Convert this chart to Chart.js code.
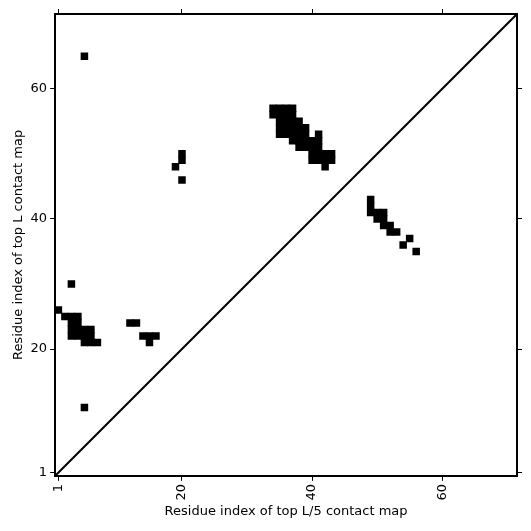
<!DOCTYPE html>
<html>
<head>
<meta charset="utf-8">
<script src="https://cdn.jsdelivr.net/npm/chart.js@4"></script>
<style>
  body { margin: 0; background: white; }
  #box { width: 531px; height: 531px; }
</style>
</head>
<body>
<div id="box"><canvas id="myChart"></canvas></div>
<script>

// residue range and ticks
let minRes = 0.5;
let maxRes = 71.5;
let xTicks = [1, 20, 40, 60];
let yTicks = [1, 20, 40, 60];

let xTitle = 'Residue index of top L/5 contact map';
let yTitle = 'Residue index of top L contact map';

// contact cells (x residue, y residue)
let contactX = [5,
  34,35,36,37, 34,35,36,37,
  35,36,37,38,
  35,36,37,38,39,
  35,36,37,38,39, 41,
  37,38,39,40,41,
  38,39,40,41,
  40,41,42,43, 40,41,42,43,
  42,
  20,20,19,20,
  49,49, 49,50,51, 50,51, 51,52, 52,53, 55, 54, 56,
  3, 1,
  2,3,4, 3,4, 3,4,5,6, 3,4,5,6, 5,6,7,
  12,13, 14,15,16, 15,
  5];
let contactY = [65,
  57,57,57,57, 56,56,56,56,
  55,55,55,55,
  54,54,54,54,54,
  53,53,53,53,53, 53,
  52,52,52,52,52,
  51,51,51,51,
  50,50,50,50, 49,49,49,49,
  48,
  50,49,48,46,
  43,42, 41,41,41, 40,40, 39,39, 38,38, 37, 36, 35,
  30, 26,
  25,25,25, 24,24, 23,23,23,23, 22,22,22,22, 21,21,21,
  24,24, 22,22,22, 21,
  11];

let puntos = [];
for (let i = 0; i < contactX.length; i++) {
  puntos.push({x: contactX[i], y: contactY[i]});
}

// square side = one residue on the x scale (a bit more so neighbours join)
function cellRadius(ctx) {
  let sx = ctx.chart.scales.x;
  let w = Math.abs(sx.getPixelForValue(1) - sx.getPixelForValue(0));
  return (w + 1) / Math.SQRT2;
}

function fijarTicks(lista) {
  return function(axis) {
    axis.ticks = lista.map(v => ({value: v}));
  };
}

let fuente = {family: 'DejaVu Sans', size: 13};

function ejeBase(pos, lista, labels) {
  return {
    type: 'linear',
    position: pos,
    min: minRes,
    max: maxRes,
    afterBuildTicks: fijarTicks(lista),
    grid: {display: true, drawOnChartArea: false, drawTicks: true, tickLength: 5, color: '#000', lineWidth: 1},
    border: {display: true, color: '#000', width: 2},
    ticks: {display: labels, color: '#000', font: fuente, padding: 3}
  };
}

let ejeX = ejeBase('bottom', xTicks, true);
ejeX.ticks.minRotation = 90;
ejeX.ticks.maxRotation = 90;
ejeX.title = {display: true, text: xTitle, color: '#000', font: fuente, padding: {top: 0, bottom: 0}};

let ejeY = ejeBase('left', yTicks, true);
ejeY.title = {display: true, text: yTitle, color: '#000', font: fuente, padding: {top: 0, bottom: 1}};

let ejeX2 = ejeBase('top', xTicks, false);
let ejeY2 = ejeBase('right', yTicks, false);

const config = {
  type: 'scatter',
  data: {
    datasets: [
      {
        data: puntos,
        pointStyle: 'rect',
        pointRadius: cellRadius,
        pointHoverRadius: cellRadius,
        backgroundColor: '#000',
        borderWidth: 0
      },
      {
        type: 'line',
        data: [{x: minRes, y: minRes}, {x: maxRes, y: maxRes}],
        borderColor: '#000',
        borderWidth: 2,
        pointRadius: 0,
        fill: false
      }
    ]
  },
  options: {
    responsive: true,
    maintainAspectRatio: false,
    animation: false,
    layout: {padding: {top: 9, right: 9, bottom: 12, left: 11}},
    plugins: {legend: {display: false}, tooltip: {enabled: false}},
    scales: {x: ejeX, y: ejeY, x2: ejeX2, y2: ejeY2}
  }
};

let myChart = document.getElementById('myChart');
let grafico = new Chart(myChart, config);

</script>
</body>
</html>
